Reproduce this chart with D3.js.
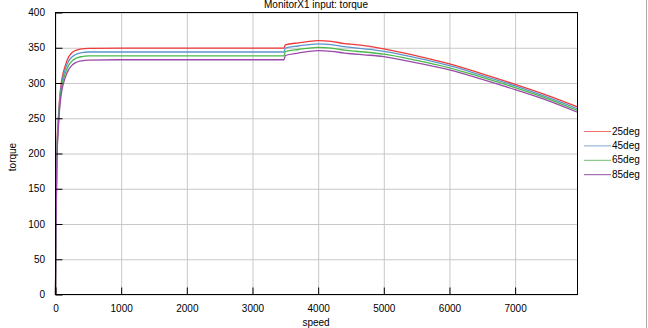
<!DOCTYPE html>
<html>
<head>
<meta charset="utf-8">
<script src="https://cdn.jsdelivr.net/npm/d3@7"></script>
<style>
  body { margin: 0; background: #fff; }
  text { font-family: "Liberation Sans", Arial, sans-serif; font-size: 10px; fill: #000; }
  .grid line { stroke: #c8c8c8; }
  .grid path { display: none; }
  .ticks path { display: none; }
  .ticks line { stroke: #000; }
</style>
</head>
<body>
<script>
// values
const speed = [0, 10, 20, 40, 60, 80, 100, 150, 200, 250, 300, 400, 500, 1000, 3480,
               3500, 3700, 4000, 4200, 4400, 4500, 4700, 5000, 5500, 6000, 6500, 7000, 7500, 7950];
const torque25 = [0, 120, 200, 245, 275, 295, 307, 325, 337, 343, 346, 348.5, 349, 349.5, 349.5,
                  354, 357, 360, 359, 356, 355, 353, 348.5, 338.5, 327, 313, 298, 282, 266];
const torque45 = [0, 115, 195, 240, 270, 290, 302, 320, 331, 337, 340, 343, 344, 344, 344,
                  349.5, 352.5, 355.5, 354.5, 351.5, 350.5, 348.5, 345, 335.5, 324.5, 310.5, 296, 279.5, 263.5];
const torque65 = [0, 112, 190, 235, 265, 285, 297, 314, 325, 331, 334.5, 337.5, 338.5, 338.5, 338.5,
                  344.5, 347.5, 350.5, 349.5, 346.5, 345.5, 344, 341, 332, 321.5, 308, 293.5, 277.5, 261];
const torque85 = [0, 108, 185, 230, 260, 279, 291, 308, 319, 325, 328.5, 331.5, 332.5, 333, 333,
                  339, 342.5, 346, 345, 342.5, 341.5, 340, 337.5, 328.5, 318.5, 305, 290.5, 275, 258.5];
const seriesNames = ['25deg', '45deg', '65deg', '85deg'];
const seriesColors = ['#ee3a3a', '#5a96cc', '#4cb84c', '#9a4aa8'];
const legendColors = ['#f07070', '#80a8d0', '#70c070', '#9050a0'];
const xTicks = [0, 1000, 2000, 3000, 4000, 5000, 6000, 7000];
const yTicks = [0, 50, 100, 150, 200, 250, 300, 350, 400];

const W = 648, H = 328;
const plot = { left: 55.5, right: 577.5, top: 12.5, bottom: 294.5 };

const svg = d3.select('body').append('svg')
    .attr('width', W)
    .attr('height', H);

const x = d3.scaleLinear().domain([0, 7950]).range([plot.left, plot.right]);
const y = d3.scaleLinear().domain([0, 400]).range([plot.bottom, plot.top]);

// gridlines
svg.append('g')
    .attr('class', 'grid')
    .attr('transform', `translate(0,${plot.bottom})`)
    .call(d3.axisBottom(x).tickValues(xTicks).tickSize(-(plot.bottom - plot.top)).tickFormat(''));
svg.append('g')
    .attr('class', 'grid')
    .attr('transform', `translate(${plot.left},0)`)
    .call(d3.axisLeft(y).tickValues(yTicks).tickSize(-(plot.right - plot.left)).tickFormat(''));

// lines
const allSeries = [torque25, torque45, torque65, torque85];
const line = d3.line()
    .x((d, i) => x(speed[i]))
    .y(d => y(d))
    .curve(d3.curveMonotoneX);

allSeries.forEach((vals, idx) => {
    svg.append('path')
        .datum(vals)
        .attr('fill', 'none')
        .attr('stroke', seriesColors[idx])
        .attr('stroke-width', 1.3)
        .attr('d', line);
});

// frame
svg.append('rect')
    .attr('x', plot.left)
    .attr('y', plot.top)
    .attr('width', plot.right - plot.left)
    .attr('height', plot.bottom - plot.top)
    .attr('fill', 'none')
    .attr('stroke', '#000');

// axes with inward ticks
svg.append('g')
    .attr('class', 'ticks')
    .attr('transform', `translate(0,${plot.bottom})`)
    .call(d3.axisBottom(x).tickValues(xTicks).tickSize(-7).tickPadding(10).tickFormat(d3.format('d')))
    .selectAll('text').style('font-size', '10px');
svg.append('g')
    .attr('class', 'ticks')
    .attr('transform', `translate(${plot.left},0)`)
    .call(d3.axisLeft(y).tickValues(yTicks).tickSize(-7).tickPadding(10.5))
    .selectAll('text').style('font-size', '10px');

// titles
svg.append('text')
    .attr('x', 316)
    .attr('y', 8)
    .attr('text-anchor', 'middle')
    .text('MonitorX1 input: torque');
svg.append('text')
    .attr('x', 316)
    .attr('y', 326)
    .attr('text-anchor', 'middle')
    .text('speed');
svg.append('text')
    .attr('transform', 'translate(15.5,157) rotate(-90)')
    .attr('text-anchor', 'middle')
    .text('torque');

// legend
seriesNames.forEach((name, idx) => {
    const ly = 131 + idx * 14.4;
    svg.append('line')
        .attr('x1', 584).attr('x2', 611)
        .attr('y1', ly + 0.5).attr('y2', ly + 0.5)
        .attr('stroke', legendColors[idx])
        .attr('stroke-width', 1);
    svg.append('text')
        .attr('x', 612)
        .attr('y', ly + 3.5)
        .text(name);
});

// right window edge
svg.append('line')
    .attr('x1', 646.5).attr('x2', 646.5)
    .attr('y1', 0).attr('y2', H)
    .attr('stroke', '#a8a8a8');
</script>
</body>
</html>
